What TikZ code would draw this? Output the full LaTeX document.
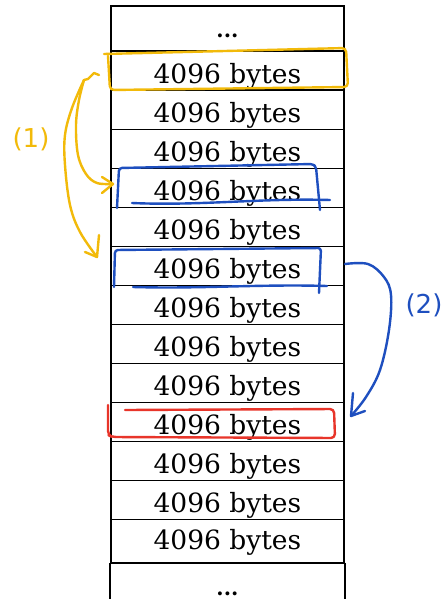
\documentclass[tikz,border=0pt]{standalone}
\usepackage{fontspec}
\usetikzlibrary{calc}
\setmainfont{DejaVu Serif}
\newfontfamily\handfont{DejaVu Sans}
\definecolor{hlyellow}{HTML}{F2BA0A}
\definecolor{hlblue}{HTML}{1E4FBF}
\definecolor{hlred}{HTML}{E8352A}
\begin{document}
\begin{tikzpicture}[x=1pt,y=-1pt,
  row/.style={draw=black,line width=1.9pt,minimum width=233pt,inner sep=0pt,
    text height=32pt,text depth=7pt,anchor=north west,
    font=\fontsize{26.5}{30}\selectfont},
  dotrow/.style={row,font=\bfseries\fontsize{21}{24}\selectfont},
  tableline/.style={draw=black,line width=1.9pt},
  hly/.style={draw=hlyellow,line width=2.4pt,line cap=round,line join=round},
  hlb/.style={draw=hlblue,line width=2.4pt,line cap=round,line join=round},
  hlr/.style={draw=hlred,line width=2.4pt,line cap=round,line join=round},
  lab/.style={inner sep=0pt,font=\handfont\fontsize{26}{28}\selectfont}]
\clip (0,0) rectangle (444,599);
\fill[white] (0,0) rectangle (444,599);
% table
\node[dotrow,text height=31.5pt,text depth=13.5pt] (r0) at (110,5.5) {...};
\foreach \i in {1,...,12}
  \node[row] (r\i) at (110,{50.5+39*(\i-1)}) {4096 bytes};
\node[row,text height=30pt,text depth=13.5pt] (r13) at (110,518.5) {4096 bytes};
\node[dotrow,draw=none,text height=32pt,text depth=4pt] (r14) at (110,562.5) {...};
\draw[tableline] (r14.north west) -- ($(r14.south west)+(0,10)$);
\draw[tableline] (r14.north east) -- ($(r14.south east)+(0,10)$);
% yellow box
\draw[hly,rounded corners=4pt] (104,54) -- (346,48) -- (348,87) -- (110,90) -- (108,56);
% blue boxes
\draw[hlb,rounded corners=3pt] (117,208) -- (119,168) -- (313,164) -- (316,167) -- (320,210);
\draw[hlb] (132,203) .. controls (200,206) and (260,198) .. (330,200);
\draw[hlb,rounded corners=3pt] (114,287) -- (115,250) -- (321,248) -- (319,293);
\draw[hlb] (133,287) .. controls (200,289) and (260,284) .. (327,286);
% red box
\draw[hlr,rounded corners=4pt] (108,405) -- (108,435) -- (112,437) -- (335,438) -- (334,409) -- (125,410);
% yellow arrows (1)
\coordinate (yh) at (84,80);
\coordinate (yt1) at (113,184);
\coordinate (yt2) at (97,257);
\draw[hly] (99,75) -- (94,73) -- (88,79) -- (yh);
\draw[hly] plot[smooth,tension=0.6] coordinates {(yh) (79,100) (76,125) (78,155) (86,174) (97,183) (yt1)};
\draw[hly] (102,177) -- (yt1) -- (102,193);
\draw[hly] plot[smooth,tension=0.6] coordinates {(yh) (72,108) (65,135) (65,165) (70,205) (80,232) (yt2)};
\draw[hly] (99,235) -- (yt2) -- (85,252);
\node[lab,text=hlyellow] (l1) at (31,139) {(1)};
% blue arrow (2)
\coordinate (bs) at (345,264);
\coordinate (bt) at (351,416);
\draw[hlb] plot[smooth,tension=0.6] coordinates {(bs) (368,264) (384,277) (391,295) (389,330) (380,370) (366,397) (bt)};
\draw[hlb] (353,393) -- (bt) -- (365,411);
\node[lab,text=hlblue] (l2) at (424,305) {(2)};
\end{tikzpicture}
\end{document}
